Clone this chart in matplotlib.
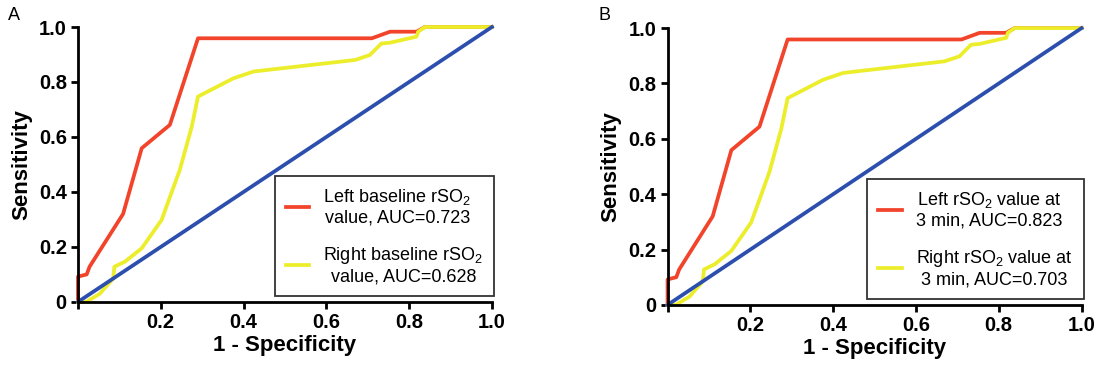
import matplotlib
matplotlib.use("Agg")
import matplotlib.pyplot as plt

plt.rcParams.update({
    'font.family': 'Liberation Sans',
    'mathtext.fontset': 'custom',
    'mathtext.rm': 'Liberation Sans',
    'mathtext.it': 'Liberation Sans:italic',
    'mathtext.bf': 'Liberation Sans:bold',
})

# ROC curves (1 - specificity, sensitivity)
left_fpr = [0, 0, 0.021, 0.028, 0.109, 0.154, 0.222, 0.29, 0.71, 0.754, 0.818, 0.838, 1.0]
left_tpr = [0, 0.092, 0.10, 0.128, 0.32, 0.559, 0.644, 0.959, 0.959, 0.983, 0.983, 1.0, 1.0]

right_fpr = [0, 0.02, 0.053, 0.085, 0.088, 0.114, 0.154, 0.202, 0.246, 0.275, 0.29, 0.375,
             0.424, 0.464, 0.669, 0.705, 0.733, 0.754, 0.818, 0.822, 0.838, 1.0]
right_tpr = [0, 0.0, 0.03, 0.085, 0.128, 0.147, 0.195, 0.298, 0.48, 0.638, 0.747, 0.813,
             0.838, 0.845, 0.88, 0.898, 0.94, 0.943, 0.965, 0.983, 1.0, 1.0]

ref_line = [0, 1]

panels = ['A', 'B']
left_labels = ['Left baseline rSO$_2$\nvalue, AUC=0.723',
               'Left rSO$_2$ value at\n3 min, AUC=0.823']
right_labels = ['Right baseline rSO$_2$\nvalue, AUC=0.628',
                'Right rSO$_2$ value at\n3 min, AUC=0.703']

x_ticks = [0, 0.2, 0.4, 0.6, 0.8, 1.0]
x_ticklabels = ['', '0.2', '0.4', '0.6', '0.8', '1.0']
y_ticks = [0, 0.2, 0.4, 0.6, 0.8, 1.0]
y_ticklabels = ['0', '0.2', '0.4', '0.6', '0.8', '1.0']

RED = '#f2432b'
YELLOW = '#ecee2c'
BLUE = '#2c4fae'

fig = plt.figure(figsize=(10.98, 3.7), dpi=100)
boxes = [[0.071, 0.184, 0.377, 0.743], [0.608, 0.176, 0.377, 0.748]]
label_pos = [(0.007, 0.945), (0.545, 0.945)]

for i in range(2):
    ax = fig.add_axes(boxes[i])
    l1, = ax.plot(left_fpr, left_tpr, color=RED, lw=2.7, clip_on=False,
                  label=left_labels[i])
    l2, = ax.plot(right_fpr, right_tpr, color=YELLOW, lw=2.7, clip_on=False,
                  label=right_labels[i])
    ax.plot(ref_line, ref_line, color=BLUE, lw=2.7, clip_on=False)
    ax.set_xlim(0, 1)
    ax.set_ylim(0, 1)
    for s in ['top', 'right']:
        ax.spines[s].set_visible(False)
    for s in ['left', 'bottom']:
        ax.spines[s].set_linewidth(2.0)
    ax.tick_params(width=2.0, length=5, labelsize=14.5, pad=3)
    ax.set_xticks(x_ticks)
    ax.set_xticklabels(x_ticklabels, fontweight='bold')
    ax.set_yticks(y_ticks)
    ax.set_yticklabels(y_ticklabels, fontweight='bold')
    ax.set_xlabel('1 - Specificity', fontsize=16, fontweight='bold', labelpad=2)
    ax.set_ylabel('Sensitivity', fontsize=16, fontweight='bold', labelpad=5)
    leg = ax.legend(handles=[l1, l2], loc='lower right', bbox_to_anchor=(1.005, 0.02),
                    fontsize=13, frameon=True, fancybox=False, edgecolor='black',
                    handlelength=1.3, handletextpad=0.8, borderpad=0.6,
                    labelspacing=1.0, borderaxespad=0)
    leg.get_frame().set_linewidth(1.3)
    for t in leg.get_texts():
        t.set_multialignment('center')
    fig.text(label_pos[i][0], label_pos[i][1], panels[i], fontsize=13)

fig.savefig('out.png', dpi=100)
